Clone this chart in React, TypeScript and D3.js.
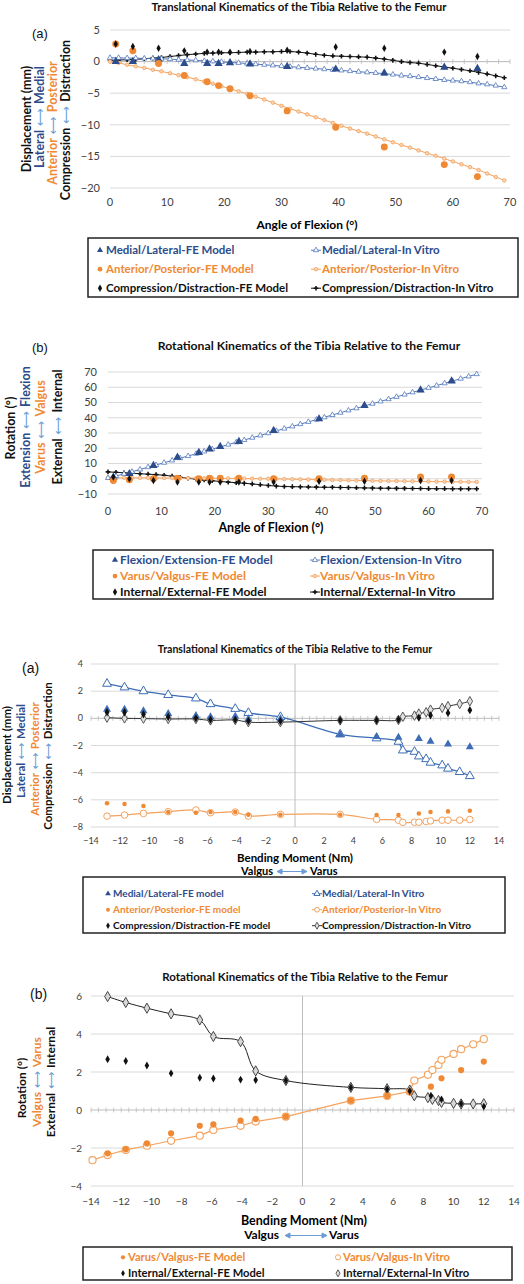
import React from 'react';
import * as d3 from 'd3';

// ---------------- DATA ----------------
// Panel 1 & 2 (angle of flexion)
const flexFE = [1, 4, 8.5, 13, 17, 19, 21, 24.5, 31, 39.5, 48, 58.5, 64.3];
const mlFE1 = [0, 0, 0.3, -0.3, -0.3, -0.3, -0.2, -0.4, -0.8, -1.2, -1.8, -0.9, -1.1];
const apFE1 = [2.8, 1.7, -0.3, -2.2, -3.2, -3.8, -4.3, -5.4, -7.8, -10.4, -13.5, -16.3, -18.2];
const cdFE1 = [2.8, 2.4, 2.1, 1.7, 1.5, 1.5, 1.5, 1.6, 1.8, 2.3, 2.1, 1.5, 0.8];

const flexVitro = [0, 1.5, 3, 4.5, 6, 7.5, 9, 10.5, 12, 13.5, 15, 16.5, 18, 19.5, 21, 22.5, 24, 25.5, 27, 28.5, 30, 31.5, 33, 34.5, 36, 37.5, 39, 40.5, 42, 43.5, 45, 46.5, 48, 49.5, 51, 52.5, 54, 55.5, 57, 58.5, 60, 61.5, 63, 64.5, 66, 67.5, 69];
const mlVitro1 = [0.6, 0.6, 0.55, 0.55, 0.5, 0.5, 0.45, 0.4, 0.3, 0.25, 0.2, 0.1, 0.05, -0.05, -0.15, -0.2, -0.3, -0.4, -0.5, -0.6, -0.7, -0.8, -0.9, -1.0, -1.1, -1.2, -1.3, -1.4, -1.5, -1.6, -1.7, -1.8, -1.9, -2.05, -2.2, -2.3, -2.45, -2.6, -2.75, -2.9, -3.0, -3.1, -3.25, -3.45, -3.6, -3.8, -4.05];
const apVitro1 = [0.0, -0.2, -0.5, -0.75, -1.0, -1.3, -1.55, -1.85, -2.15, -2.45, -2.8, -3.15, -3.5, -3.9, -4.3, -4.7, -5.1, -5.55, -6.0, -6.5, -7.0, -7.45, -7.9, -8.35, -8.8, -9.25, -9.7, -10.15, -10.6, -11.0, -11.4, -11.85, -12.3, -12.75, -13.2, -13.6, -14.05, -14.5, -14.9, -15.35, -15.8, -16.25, -16.7, -17.15, -17.7, -18.25, -18.8];
const cdVitro1 = [0.2, 0.25, 0.3, 0.35, 0.45, 0.55, 0.65, 0.8, 0.95, 1.1, 1.2, 1.3, 1.35, 1.4, 1.4, 1.45, 1.5, 1.5, 1.55, 1.55, 1.6, 1.6, 1.5, 1.35, 1.15, 1.0, 0.9, 0.85, 0.8, 0.75, 0.7, 0.55, 0.4, 0.2, 0.0, -0.15, -0.25, -0.45, -0.65, -0.85, -1.05, -1.25, -1.45, -1.7, -1.95, -2.25, -2.55];

const feFE2 = [1, 3.3, 8.7, 14, 17.2, 19.4, 21.1, 24.4, 31.6, 39.2, 48, 58.2, 64];
const vvFE2 = [-1.1, -0.7, 0, 0.4, 0, 0.4, 0.4, 0.4, 0, 0, 0.4, 1.1, 1.1];
const ieFE2 = [1.1, 0, -1.1, -2.2, -2.2, -2.2, -2.2, -2.2, -2.2, -1.7, -1.7, -1.1, -1.1];
const feVitro2 = [0.5, 1.8, 3.2, 4.6, 6.1, 7.6, 9.0, 10.5, 12.0, 13.5, 14.9, 16.4, 17.9, 19.4, 20.9, 22.4, 23.9, 25.4, 26.9, 28.4, 29.9, 31.4, 32.9, 34.3, 35.8, 37.3, 38.8, 40.3, 41.8, 43.3, 44.8, 46.2, 47.7, 49.2, 50.7, 52.2, 53.7, 55.2, 56.7, 58.1, 59.6, 61.1, 62.6, 64.1, 65.6, 67.1, 68.6];
const vvVitro2 = [0.5, 0.6, 0.6, 0.6, 0.6, 0.6, 0.5, 0.5, 0.5, 0.4, 0.4, 0.4, 0.3, 0.3, 0.3, 0.2, 0.2, 0.1, 0.1, 0.0, 0.0, -0.1, -0.2, -0.3, -0.4, -0.5, -0.6, -0.7, -0.8, -0.9, -1.0, -1.1, -1.2, -1.3, -1.4, -1.5, -1.5, -1.6, -1.7, -1.7, -1.8, -1.9, -1.9, -2.0, -2.0, -2.1, -2.1];
const ieVitro2 = [4.5, 4.2, 3.9, 3.6, 3.3, 3.0, 2.7, 2.3, 1.7, 1.0, 0.3, -0.3, -0.8, -1.3, -1.8, -2.2, -2.6, -3.0, -3.4, -3.9, -4.4, -4.8, -5.1, -5.2, -5.3, -5.4, -5.5, -5.6, -5.6, -5.7, -5.8, -5.9, -6.0, -6.1, -6.2, -6.2, -6.3, -6.3, -6.4, -6.4, -6.5, -6.5, -6.5, -6.6, -6.6, -6.6, -6.6];

// Panel 3 (bending, translations)
const bendVitro3 = [-12.9, -11.7, -10.4, -8.7, -6.8, -5.8, -4.1, -3.2, -1.0, 3.1, 5.6, 7.1, 7.4, 8.2, 8.5, 9.0, 9.3, 10.1, 10.5, 11.3, 12.0];
const mlVitro3 = [2.55, 2.28, 2.0, 1.72, 1.47, 1.05, 0.7, 0.4, 0.1, -1.18, -1.47, -1.72, -2.36, -2.46, -2.8, -3.0, -3.26, -3.46, -3.7, -3.95, -4.25];
const apVitro3 = [-7.2, -7.12, -7.0, -6.87, -6.75, -6.95, -6.9, -7.19, -7.07, -7.07, -7.44, -7.5, -7.66, -7.65, -7.65, -7.6, -7.55, -7.5, -7.5, -7.5, -7.45];
const cdVitro3 = [0.05, 0.0, -0.02, -0.05, -0.05, -0.15, -0.12, -0.28, -0.28, -0.15, -0.15, -0.12, 0.12, 0.2, 0.35, 0.45, 0.64, 0.77, 0.9, 1.06, 1.26];
const bendFE3 = [-12.9, -11.7, -10.4, -8.7, -6.8, -5.8, -4.1, -3.2, -1.0, 3.1, 5.6, 7.1, 8.5, 9.3, 10.5, 12.0];
const mlFE3 = [0.65, 0.65, 0.55, 0.35, 0.2, 0.1, 0.15, -0.05, -0.05, -1.2, -1.35, -1.4, -1.5, -1.7, -1.9, -2.1];
const apFE3 = [-6.25, -6.3, -6.45, -6.9, -6.95, -6.9, -6.9, -7.1, -7.1, -7.1, -7.12, -7.12, -7.0, -6.9, -6.85, -6.8];
const cdFE3 = [0.45, 0.45, 0.3, 0.1, 0.0, -0.1, -0.1, -0.2, -0.2, -0.15, -0.15, -0.1, 0.05, 0.22, 0.4, 0.6];

// Panel 4 (bending, rotations)
const bendVitro4 = [-12.9, -11.7, -10.3, -8.7, -6.8, -5.9, -4.1, -3.1, -1.1, 3.2, 5.6, 7.1, 7.4, 8.3, 8.6, 9.0, 9.2, 10.0, 10.5, 11.3, 12.0];
const ieVitro4 = [5.97, 5.66, 5.36, 5.06, 4.74, 3.87, 3.6, 2.06, 1.55, 1.19, 1.12, 1.05, 0.75, 0.65, 0.56, 0.5, 0.4, 0.35, 0.32, 0.32, 0.33];
const bendVV4 = [-13.9, -12.9, -11.7, -10.3, -8.7, -6.8, -5.9, -4.1, -3.1, -1.1, 3.2, 5.6, 7.1, 7.4, 8.3, 8.6, 9.0, 9.2, 10.0, 10.5, 11.3, 12.0];
const vvVitro4 = [-2.64, -2.37, -2.1, -1.88, -1.62, -1.35, -1.05, -0.83, -0.61, -0.35, 0.49, 0.74, 0.97, 1.55, 1.85, 2.1, 2.37, 2.64, 2.95, 3.2, 3.46, 3.73];
const bendFE4 = [-12.9, -11.7, -10.3, -8.7, -6.8, -5.9, -4.1, -3.1, -1.1, 3.2, 5.6, 7.1, 8.5, 9.2, 10.5, 12.0];
const vvFE4 = [-2.28, -2.07, -1.76, -1.23, -0.83, -0.76, -0.56, -0.47, -0.35, 0.49, 0.74, 0.97, 1.23, 1.67, 2.1, 2.55];
const ieFE4 = [2.67, 2.58, 2.34, 1.93, 1.7, 1.66, 1.6, 1.58, 1.55, 1.19, 1.1, 1.0, 0.75, 0.56, 0.33, 0.18];

// Tick values
const ticksP1X = [0, 10, 20, 30, 40, 50, 60, 70];
const ticksP1Y = [5, 0, -5, -10, -15, -20];
const ticksP2Y = [70, 60, 50, 40, 30, 20, 10, 0, -10];
const ticksBendX = [-14, -12, -10, -8, -6, -4, -2, 0, 2, 4, 6, 8, 10, 12, 14];
const ticksP3Y = [4, 2, 0, -2, -4, -6, -8];
const ticksP4Y = [6, 4, 2, 0, -2, -4];

// ---------------- STYLE ----------------
const FONT = "Lato, 'Open Sans', sans-serif";
const BLUE_DARK = '#2C4C8C';
const BLUE_LINE = '#5479BD';
const BLUE_P3 = '#3D6DB5';
const ORANGE = '#F08933';
const ORANGE_LINE = '#F4A25E';
const BLACK = '#111111';
const GRID = '#D9D9D9';
const AXIS = '#BDBDBD';
const ARROW = '#6C9CD6';
const TICK_TXT = '#404040';

type Sym = 'triangle' | 'circle' | 'diamond' | 'cross' | 'star';
const symMap: Record<Sym, d3.SymbolType> = {
  triangle: d3.symbolTriangle,
  circle: d3.symbolCircle,
  diamond: d3.symbolDiamond,
  cross: d3.symbolCross,
  star: d3.symbolStar,
};
const symPath = (s: Sym, size: number) => d3.symbol().type(symMap[s]).size(size)() as string;

interface Mark { sym: Sym; size: number; fill: string; stroke?: string; sw?: number }
interface Series { xs: number[]; ys: number[]; mark: Mark; line?: { color: string; width: number; smooth?: boolean } }

interface PlotCfg {
  xDom: [number, number]; xRng: [number, number];
  yDom: [number, number]; yRng: [number, number];
  grid: number[]; xTicks: number[]; yTicks: number[];
  yTickX: number; xTickY: number; tickFont: number;
  zeroTicks?: number; vZero?: boolean;
  series: Series[];
}

function MarkGlyph({ m, x, y }: { m: Mark; x: number; y: number }) {
  return <path d={symPath(m.sym, m.size)} transform={`translate(${x},${y})`} fill={m.fill} stroke={m.stroke || 'none'} strokeWidth={m.sw || 1} />;
}

function Plot({ cfg }: { cfg: PlotCfg }) {
  const x = d3.scaleLinear().domain(cfg.xDom).range(cfg.xRng);
  const y = d3.scaleLinear().domain(cfg.yDom).range(cfg.yRng);
  const [x0, x1] = cfg.xRng;
  const zeroTickVals = cfg.zeroTicks ? d3.range(cfg.xDom[0], cfg.xDom[1] + 1e-6, cfg.zeroTicks) : [];
  return (
    <g>
      {cfg.grid.map((v) => (
        <line key={'g' + v} x1={x0} x2={x1} y1={y(v)} y2={y(v)} stroke={GRID} strokeWidth={1} />
      ))}
      {cfg.vZero && <line x1={x(0)} x2={x(0)} y1={y(cfg.yDom[1])} y2={y(cfg.yDom[0])} stroke={AXIS} strokeWidth={1} />}
      {cfg.zeroTicks && (
        <g>
          <line x1={x0} x2={x1} y1={y(0)} y2={y(0)} stroke={AXIS} strokeWidth={1} />
          {zeroTickVals.map((v) => (
            <line key={'zt' + v} x1={x(v)} x2={x(v)} y1={y(0) - 2.5} y2={y(0) + 2.5} stroke={AXIS} strokeWidth={0.8} />
          ))}
        </g>
      )}
      {cfg.xTicks.map((v) => (
        <text key={'xt' + v} x={x(v)} y={cfg.xTickY} textAnchor="middle" fontSize={cfg.tickFont} fill={TICK_TXT} fontFamily={FONT}>
          {v < 0 ? '\u2212' + Math.abs(v) : v}
        </text>
      ))}
      {cfg.yTicks.map((v) => (
        <text key={'yt' + v} x={cfg.yTickX} y={y(v) + cfg.tickFont * 0.35} textAnchor="end" fontSize={cfg.tickFont} fill={TICK_TXT} fontFamily={FONT}>
          {v < 0 ? '\u2212' + Math.abs(v) : v}
        </text>
      ))}
      {cfg.series.filter((s) => s.line).map((s, i) => {
        const pts = s.xs.map((xv, j) => [xv, s.ys[j]] as [number, number]);
        const gen = d3.line<[number, number]>().x((d) => x(d[0])).y((d) => y(d[1]))
          .curve(s.line!.smooth ? d3.curveCatmullRom.alpha(0.5) : d3.curveLinear);
        return <path key={'l' + i} d={gen(pts) || ''} fill="none" stroke={s.line!.color} strokeWidth={s.line!.width} />;
      })}
      {cfg.series.map((s, i) => (
        <g key={'m' + i}>
          {s.xs.map((xv, j) => <MarkGlyph key={j} m={s.mark} x={x(xv)} y={y(s.ys[j])} />)}
        </g>
      ))}
    </g>
  );
}

interface Seg { t: string; c: string; arrow?: boolean }
function RotLabel({ cx, cy, fs, segs }: { cx: number; cy: number; fs: number; segs: Seg[] }) {
  return (
    <text transform={`translate(${cx + fs * 0.36},${cy}) rotate(-90)`} textAnchor="middle" fontSize={fs} fontWeight="bold" fontFamily={FONT}>
      {segs.map((s, i) => (
        <tspan key={i} fill={s.c} fontWeight={s.arrow ? 'normal' : 'bold'} fontFamily={s.arrow ? 'DejaVu Sans' : FONT}>{s.t}</tspan>
      ))}
    </text>
  );
}

interface LegItem { col: number; row: number; label: string; color: string; mark: Mark; line?: string }
function Legend({ box, mx, tx, rows, fs, items }: { box: [number, number, number, number]; mx: number[]; tx: number[]; rows: number[]; fs: number; items: LegItem[] }) {
  return (
    <g>
      <rect x={box[0]} y={box[1]} width={box[2] - box[0]} height={box[3] - box[1]} fill="white" stroke="#222" strokeWidth={1.5} />
      {items.map((it, i) => {
        const cy = rows[it.row] - fs * 0.33;
        const mxp = mx[it.col];
        return (
          <g key={i}>
            {it.line && <line x1={mxp - 5} x2={mxp + 5} y1={cy} y2={cy} stroke={it.line} strokeWidth={1} />}
            <MarkGlyph m={it.mark} x={mxp} y={cy} />
            <text x={tx[it.col]} y={rows[it.row]} fontSize={fs} fontWeight="bold" fill={it.color} fontFamily={FONT}>{it.label}</text>
          </g>
        );
      })}
    </g>
  );
}

function HArrow({ x1, x2, y }: { x1: number; x2: number; y: number }) {
  return (
    <g stroke={ARROW} fill={ARROW} strokeWidth={1}>
      <line x1={x1 + 2} x2={x2 - 2} y1={y} y2={y} />
      <path d={`M${x1},${y} L${x1 + 5},${y - 2.5} L${x1 + 5},${y + 2.5} Z`} />
      <path d={`M${x2},${y} L${x2 - 5},${y - 2.5} L${x2 - 5},${y + 2.5} Z`} />
    </g>
  );
}

const Title = ({ x, y, fs, t }: { x: number; y: number; fs: number; t: string }) => (
  <text x={x} y={y} textAnchor="middle" fontSize={fs} fontWeight="bold" fill="#111" fontFamily={FONT}>{t}</text>
);
const Tag = ({ x, y, t, fs }: { x: number; y: number; t: string; fs: number }) => (
  <text x={x} y={y} fontSize={fs} fill="#111" fontFamily="'Liberation Sans', Arial, sans-serif">{t}</text>
);

// marks
const mTriFE: Mark = { sym: 'triangle', size: 30, fill: BLUE_DARK };
const mCircFE: Mark = { sym: 'circle', size: 38, fill: ORANGE };
const mDiaFE: Mark = { sym: 'diamond', size: 16, fill: BLACK };
const mTriV: Mark = { sym: 'triangle', size: 12, fill: 'white', stroke: BLUE_LINE, sw: 0.8 };
const mCircV: Mark = { sym: 'circle', size: 10, fill: '#FBD3B0', stroke: ORANGE_LINE, sw: 0.8 };
const mCrossV: Mark = { sym: 'cross', size: 12, fill: BLACK };

export default function App() {
  const p1: PlotCfg = {
    xDom: [0, 70], xRng: [110, 510], yDom: [-20, 5], yRng: [188, 30],
    grid: [5, 0, -5, -10, -15, -20], xTicks: ticksP1X, yTicks: ticksP1Y,
    yTickX: 100, xTickY: 206, tickFont: 11, zeroTicks: 2,
    series: [
      { xs: flexVitro, ys: cdVitro1, mark: mCrossV, line: { color: BLACK, width: 1 } },
      { xs: flexVitro, ys: mlVitro1, mark: mTriV, line: { color: BLUE_LINE, width: 1 } },
      { xs: flexVitro, ys: apVitro1, mark: mCircV, line: { color: ORANGE_LINE, width: 1 } },
      { xs: flexFE, ys: mlFE1, mark: mTriFE },
      { xs: flexFE, ys: apFE1, mark: mCircFE },
      { xs: flexFE, ys: cdFE1, mark: mDiaFE },
    ],
  };
  const p2: PlotCfg = {
    xDom: [0, 70], xRng: [108, 482], yDom: [-10, 70], yRng: [494, 372],
    grid: ticksP2Y, xTicks: ticksP1X, yTicks: ticksP2Y,
    yTickX: 97, xTickY: 515, tickFont: 11,
    series: [
      { xs: flexVitro, ys: ieVitro2, mark: mCrossV, line: { color: BLACK, width: 1 } },
      { xs: flexVitro, ys: vvVitro2, mark: mCircV, line: { color: ORANGE_LINE, width: 1 } },
      { xs: flexVitro, ys: feVitro2, mark: mTriV, line: { color: BLUE_LINE, width: 1 } },
      { xs: flexFE, ys: feFE2, mark: mTriFE },
      { xs: flexFE, ys: vvFE2, mark: mCircFE },
      { xs: flexFE, ys: ieFE2, mark: mDiaFE },
    ],
  };
  const p3: PlotCfg = {
    xDom: [-14, 14], xRng: [91, 499], yDom: [-8, 4], yRng: [827, 664],
    grid: [4, 2, -2, -4, -6, -8], xTicks: ticksBendX, yTicks: ticksP3Y,
    yTickX: 83, xTickY: 844, tickFont: 9, zeroTicks: 0.5, vZero: true,
    series: [
      { xs: bendVitro3, ys: mlVitro3, mark: { sym: 'triangle', size: 34, fill: 'white', stroke: BLUE_P3, sw: 1 }, line: { color: BLUE_P3, width: 1.3, smooth: true } },
      { xs: bendVitro3, ys: apVitro3, mark: { sym: 'circle', size: 34, fill: 'white', stroke: ORANGE_LINE, sw: 1 }, line: { color: ORANGE_LINE, width: 1.2, smooth: true } },
      { xs: bendVitro3, ys: cdVitro3, mark: { sym: 'diamond', size: 26, fill: '#E0E0E0', stroke: '#333', sw: 0.8 }, line: { color: '#333', width: 1, smooth: true } },
      { xs: bendFE3, ys: mlFE3, mark: { sym: 'triangle', size: 28, fill: BLUE_P3 } },
      { xs: bendFE3, ys: apFE3, mark: { sym: 'circle', size: 16, fill: ORANGE } },
      { xs: bendFE3, ys: cdFE3, mark: { sym: 'diamond', size: 20, fill: BLACK } },
    ],
  };
  const p4: PlotCfg = {
    xDom: [-14, 14], xRng: [91, 514], yDom: [-4, 6], yRng: [1186, 996],
    grid: [6, 4, 2, -2, -4], xTicks: ticksBendX, yTicks: ticksP4Y,
    yTickX: 82, xTickY: 1205, tickFont: 10, zeroTicks: 0.5, vZero: true,
    series: [
      { xs: bendVV4, ys: vvVitro4, mark: { sym: 'circle', size: 40, fill: 'white', stroke: ORANGE_LINE, sw: 1.1 }, line: { color: ORANGE_LINE, width: 1.2 } },
      { xs: bendVitro4, ys: ieVitro4, mark: { sym: 'diamond', size: 30, fill: '#D8D8D8', stroke: '#333', sw: 0.9 }, line: { color: '#222', width: 1, smooth: true } },
      { xs: bendFE4, ys: vvFE4, mark: { sym: 'circle', size: 30, fill: ORANGE } },
      { xs: bendFE4, ys: ieFE4, mark: { sym: 'diamond', size: 18, fill: BLACK } },
    ],
  };

  const arrow = (c = ARROW): Seg => ({ t: ' \u27F7 ', c, arrow: true });

  return (
    <svg width={524} height={1284} style={{ position: 'absolute', left: 0, top: 0, background: 'white' }} fontFamily={FONT}>
      {/* ---------- Panel 1 ---------- */}
      <Title x={299} y={11} fs={11.4} t="Translational Kinematics of the Tibia Relative to the Femur" />
      <Tag x={32} y={38} t="(a)" fs={13} />
      <RotLabel cx={26} cy={119} fs={12.5} segs={[{ t: 'Displacement (mm)', c: BLACK }]} />
      <RotLabel cx={39} cy={117} fs={12.5} segs={[{ t: 'Lateral', c: BLUE_DARK }, arrow(), { t: 'Medial', c: BLUE_DARK }]} />
      <RotLabel cx={52} cy={123} fs={12.5} segs={[{ t: 'Anterior', c: ORANGE }, arrow(), { t: 'Posterior', c: ORANGE }]} />
      <RotLabel cx={65} cy={120} fs={12.5} segs={[{ t: 'Compression', c: BLACK }, arrow(), { t: 'Distraction', c: BLACK }]} />
      <Plot cfg={p1} />
      <text x={307} y={229} textAnchor="middle" fontSize={12} fontWeight="bold" fontFamily={FONT}>Angle of Flexion (°)</text>
      <Legend box={[88, 238, 518, 297]} mx={[100, 316]} tx={[106, 322]} rows={[254, 273, 292]} fs={11.5}
        items={[
          { col: 0, row: 0, label: 'Medial/Lateral-FE Model', color: BLUE_DARK, mark: { ...mTriFE, size: 16 } },
          { col: 1, row: 0, label: 'Medial/Lateral-In Vitro', color: BLUE_DARK, mark: mTriV, line: BLUE_LINE },
          { col: 0, row: 1, label: 'Anterior/Posterior-FE Model', color: ORANGE, mark: { ...mCircFE, size: 18 } },
          { col: 1, row: 1, label: 'Anterior/Posterior-In Vitro', color: ORANGE, mark: mCircV, line: ORANGE_LINE },
          { col: 0, row: 2, label: 'Compression/Distraction-FE Model', color: BLACK, mark: mDiaFE },
          { col: 1, row: 2, label: 'Compression/Distraction-In Vitro', color: BLACK, mark: mCrossV, line: BLACK },
        ]} />

      {/* ---------- Panel 2 ---------- */}
      <Title x={309} y={350} fs={12.2} t="Rotational Kinematics of the Tibia Relative to the Femur" />
      <Tag x={32} y={352} t="(b)" fs={13} />
      <RotLabel cx={10} cy={428} fs={12.5} segs={[{ t: 'Rotation (°)', c: BLACK }]} />
      <RotLabel cx={25} cy={427} fs={12.5} segs={[{ t: 'Extension', c: BLUE_DARK }, arrow(), { t: 'Flexion', c: BLUE_DARK }]} />
      <RotLabel cx={40} cy={427} fs={12.5} segs={[{ t: 'Varus', c: ORANGE }, arrow(), { t: 'Valgus', c: ORANGE }]} />
      <RotLabel cx={57} cy={427} fs={12.5} segs={[{ t: 'External', c: BLACK }, arrow(), { t: 'Internal', c: BLACK }]} />
      <Plot cfg={p2} />
      <text x={271} y={532} textAnchor="middle" fontSize={12.5} fontWeight="bold" fontFamily={FONT}>Angle of Flexion (°)</text>
      <Legend box={[93, 550, 493, 599]} mx={[115, 315]} tx={[120, 320]} rows={[564, 580, 596]} fs={12}
        items={[
          { col: 0, row: 0, label: 'Flexion/Extension-FE Model', color: BLUE_DARK, mark: { ...mTriFE, size: 16 } },
          { col: 1, row: 0, label: 'Flexion/Extension-In Vitro', color: BLUE_DARK, mark: mTriV, line: BLUE_LINE },
          { col: 0, row: 1, label: 'Varus/Valgus-FE Model', color: ORANGE, mark: { ...mCircFE, size: 18 } },
          { col: 1, row: 1, label: 'Varus/Valgus-In Vitro', color: ORANGE, mark: mCircV, line: ORANGE_LINE },
          { col: 0, row: 2, label: 'Internal/External-FE Model', color: BLACK, mark: mDiaFE },
          { col: 1, row: 2, label: 'Internal/External-In Vitro', color: BLACK, mark: mCrossV, line: BLACK },
        ]} />

      {/* ---------- Panel 3 ---------- */}
      <Title x={295} y={653} fs={10.6} t="Translational Kinematics of the Tibia Relative to the Femur" />
      <Tag x={22} y={673} t="(a)" fs={14} />
      <RotLabel cx={7} cy={755} fs={11.5} segs={[{ t: 'Displacement (mm)', c: BLACK }]} />
      <RotLabel cx={21} cy={751} fs={11.5} segs={[{ t: 'Lateral', c: BLUE_DARK }, arrow(), { t: 'Medial', c: BLUE_DARK }]} />
      <RotLabel cx={35} cy={759} fs={11.5} segs={[{ t: 'Anterior', c: ORANGE }, arrow(), { t: 'Posterior', c: ORANGE }]} />
      <RotLabel cx={48} cy={756} fs={11.5} segs={[{ t: 'Compression', c: BLACK }, arrow(), { t: 'Distraction', c: BLACK }]} />
      <Plot cfg={p3} />
      <text x={295} y={862} textAnchor="middle" fontSize={11.5} fontWeight="bold" fontFamily={FONT}>Bending Moment (Nm)</text>
      <text x={273} y={875} textAnchor="end" fontSize={11} fontWeight="bold" fontFamily={FONT}>Valgus</text>
      <HArrow x1={277} x2={307} y={871.5} />
      <text x={310} y={875} fontSize={11} fontWeight="bold" fontFamily={FONT}>Varus</text>
      <Legend box={[83, 877, 505, 933]} mx={[108, 317]} tx={[113, 322]} rows={[897, 913, 929]} fs={10}
        items={[
          { col: 0, row: 0, label: 'Medial/Lateral-FE model', color: BLUE_DARK, mark: { sym: 'triangle', size: 14, fill: BLUE_DARK } },
          { col: 1, row: 0, label: 'Medial/Lateral-In Vitro', color: BLUE_DARK, mark: { sym: 'triangle', size: 16, fill: 'white', stroke: BLUE_P3, sw: 1 }, line: BLUE_P3 },
          { col: 0, row: 1, label: 'Anterior/Posterior-FE model', color: ORANGE, mark: { sym: 'circle', size: 12, fill: ORANGE } },
          { col: 1, row: 1, label: 'Anterior/Posterior-In Vitro', color: ORANGE, mark: { sym: 'circle', size: 18, fill: 'white', stroke: ORANGE_LINE, sw: 1 }, line: ORANGE_LINE },
          { col: 0, row: 2, label: 'Compression/Distraction-FE model', color: BLACK, mark: { sym: 'diamond', size: 12, fill: BLACK } },
          { col: 1, row: 2, label: 'Compression/Distraction-In Vitro', color: BLACK, mark: { sym: 'diamond', size: 14, fill: '#E0E0E0', stroke: '#333', sw: 0.8 }, line: '#333' },
        ]} />

      {/* ---------- Panel 4 ---------- */}
      <Title x={305} y={981} fs={11.5} t="Rotational Kinematics of the Tibia Relative to the Femur" />
      <Tag x={30} y={999} t="(b)" fs={14} />
      <RotLabel cx={22} cy={1088} fs={12} segs={[{ t: 'Rotation (°)', c: BLACK }]} />
      <RotLabel cx={37} cy={1082} fs={12} segs={[{ t: 'Valgus', c: ORANGE }, arrow(), { t: 'Varus', c: ORANGE }]} />
      <RotLabel cx={51} cy={1082} fs={12} segs={[{ t: 'External', c: BLACK }, arrow(), { t: 'Internal', c: BLACK }]} />
      <Plot cfg={p4} />
      <text x={304} y={1225} textAnchor="middle" fontSize={12.5} fontWeight="bold" fontFamily={FONT}>Bending Moment (Nm)</text>
      <text x={279} y={1239} textAnchor="end" fontSize={12} fontWeight="bold" fontFamily={FONT}>Valgus</text>
      <HArrow x1={285} x2={327} y={1235.5} />
      <text x={329} y={1239} fontSize={12} fontWeight="bold" fontFamily={FONT}>Varus</text>
      <Legend box={[83, 1247, 512, 1280]} mx={[123, 338]} tx={[128, 343]} rows={[1261, 1277]} fs={11.2}
        items={[
          { col: 0, row: 0, label: 'Varus/Valgus-FE Model', color: ORANGE, mark: { sym: 'circle', size: 14, fill: ORANGE } },
          { col: 1, row: 0, label: 'Varus/Valgus-In Vitro', color: ORANGE, mark: { sym: 'circle', size: 20, fill: 'white', stroke: ORANGE_LINE, sw: 1 } },
          { col: 0, row: 1, label: 'Internal/External-FE Model', color: BLACK, mark: { sym: 'diamond', size: 12, fill: BLACK } },
          { col: 1, row: 1, label: 'Internal/External-In Vitro', color: BLACK, mark: { sym: 'diamond', size: 14, fill: '#E0E0E0', stroke: '#333', sw: 0.8 } },
        ]} />
    </svg>
  );
}
